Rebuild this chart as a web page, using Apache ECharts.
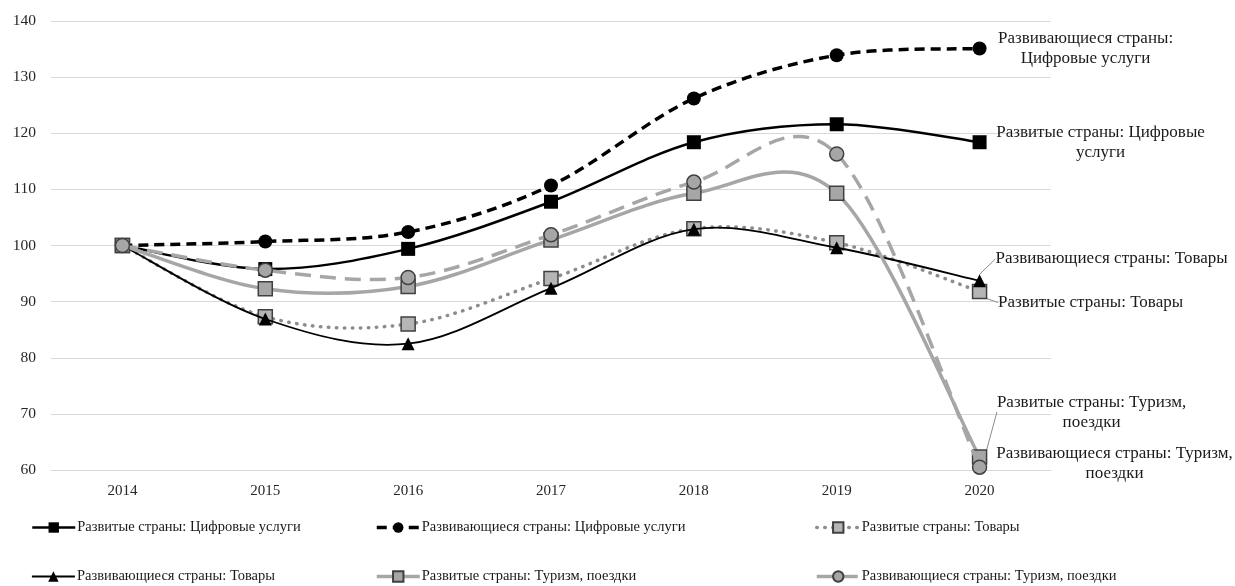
<!DOCTYPE html>
<html><head><meta charset="utf-8">
<script src="https://cdn.jsdelivr.net/npm/echarts@6/dist/echarts.min.js"></script>
<style>html,body{margin:0;padding:0;background:#fff}#c{width:1235px;height:586px}</style>
</head><body><div id="c"></div>
<script>
const years = ['2014','2015','2016','2017','2018','2019','2020'];
const devDigital = [100, 95.8, 99.4, 107.8, 118.4, 121.6, 118.4];
const dingDigital = [100, 100.7, 102.4, 110.7, 126.2, 133.9, 135.1];
const devGoods = [100, 87.3, 86.0, 94.1, 103.0, 100.5, 91.8];
const dingGoods = [100, 86.9, 82.5, 92.4, 102.9, 99.6, 93.7];
const devTourism = [100, 92.3, 92.7, 101.0, 109.3, 109.3, 62.3];
const dingTourism = [100, 95.6, 94.3, 101.9, 111.3, 116.3, 60.5];
const names = [
  'Развитые страны: Цифровые услуги',
  'Развивающиеся страны: Цифровые услуги',
  'Развитые страны: Товары',
  'Развивающиеся страны: Товары',
  'Развитые страны: Туризм, поездки',
  'Развивающиеся страны: Туризм, поездки'
];
const endLabels = [
  'Развитые страны: Цифровые\nуслуги',
  'Развивающиеся страны:\nЦифровые услуги',
  'Развитые страны: Товары',
  'Развивающиеся страны: Товары',
  'Развитые страны: Туризм,\nпоездки',
  'Развивающиеся страны: Туризм,\nпоездки'
];
const FONT = '"Liberation Serif", "DejaVu Serif", serif';
const chart = echarts.init(document.getElementById('c'), null, {renderer:'canvas'});

const styles = [
  {symbol:'rect', size:14, line:{color:'#000', width:2.5, type:'solid'}, fill:'#000', border:'#000', bw:0},
  {symbol:'circle', size:14, line:{color:'#000', width:3.5, type:[10,6]}, fill:'#000', border:'#000', bw:0},
  {symbol:'rect', size:14, line:{color:'#8c8c8c', width:3.5, type:[0.5,7.5], cap:'round'}, fill:'#b5b5b5', border:'#404040', bw:1.5},
  {symbol:'triangle', size:13, line:{color:'#000', width:1.8, type:'solid'}, fill:'#000', border:'#000', bw:0},
  {symbol:'rect', size:14, line:{color:'#a6a6a6', width:3.5, type:'solid'}, fill:'#a6a6a6', border:'#404040', bw:1.5},
  {symbol:'circle', size:14, line:{color:'#a6a6a6', width:3.5, type:[16,9]}, fill:'#a6a6a6', border:'#404040', bw:1.5}
];
const allValues = [devDigital, dingDigital, devGoods, dingGoods, devTourism, dingTourism];
const labelShifts = [[121, 0], [106, 0], [111, 11], [132, -22], [112, -45], [135, -4]];
const labelLines = [false, false, true, true, true, false];

// Excel-like smoothed curve drawn through the axis scales (api.coord)
function curveSeries(idx) {
  const values = allValues[idx];
  const st = styles[idx].line;
  return {
    type: 'custom',
    z: 2 + idx * 2,
    silent: true,
    clip: true,
    data: values.map((v, i) => [i, v]),
    encode: {x: 0, y: 1},
    renderItem: function (params, api) {
      if (params.dataIndex !== 0) return null;
      const p = values.map((v, i) => api.coord([i, v]));
      const n = p.length;
      let d = 'M' + p[0][0] + ' ' + p[0][1];
      for (let i = 0; i < n - 1; i++) {
        const p0 = p[Math.max(0, i - 1)], p1 = p[i], p2 = p[i + 1], p3 = p[Math.min(n - 1, i + 2)];
        const c1x = p1[0] + (p2[0] - p0[0]) / 6, c1y = p1[1] + (p2[1] - p0[1]) / 6;
        const c2x = p2[0] - (p3[0] - p1[0]) / 6, c2y = p2[1] - (p3[1] - p1[1]) / 6;
        d += ' C' + c1x + ' ' + c1y + ' ' + c2x + ' ' + c2y + ' ' + p2[0] + ' ' + p2[1];
      }
      return {
        type: 'path',
        shape: {pathData: d},
        style: {
          fill: 'none', stroke: st.color, lineWidth: st.width,
          lineDash: Array.isArray(st.type) ? st.type : null,
          lineCap: st.cap || 'butt', lineJoin: 'round'
        }
      };
    }
  };
}

function pointSeries(idx) {
  const values = allValues[idx];
  const s = styles[idx];
  const last = values.length - 1;
  const sh = labelShifts[idx];
  return {
    type: 'line',
    name: names[idx],
    z: 3 + idx * 2,
    symbol: s.symbol, symbolSize: s.size,
    lineStyle: {opacity: 0},
    itemStyle: {color: s.fill, borderColor: s.border, borderWidth: s.bw},
    data: values.map((v, i) => i === last ? {
      value: v,
      label: {
        show: true, position: 'inside', formatter: endLabels[idx],
        align: 'center', verticalAlign: 'middle',
        fontFamily: FONT, fontSize: 17, color: '#1a1a1a', lineHeight: 20
      },
      labelLine: {show: labelLines[idx], length2: 0, lineStyle: {color: '#8c8c8c', width: 1}}
    } : v),
    labelLayout: function () { return {dx: sh[0], dy: sh[1]}; },
    labelLine: {show: labelLines[idx], lineStyle: {color: '#8c8c8c', width: 1}}
  };
}

const series = [];
for (let i = 0; i < 6; i++) { series.push(curveSeries(i)); series.push(pointSeries(i)); }

const legendPos = [[31, 520], [375, 520], [815, 520], [31, 569], [375, 569], [815, 569]];
const legends = legendPos.map((pos, i) => ({
  left: pos[0], top: pos[1], padding: 0,
  itemWidth: 43, itemHeight: 13, itemGap: 0,
  selectedMode: false,
  data: [names[i]],
  lineStyle: {color: styles[i].line.color, width: Math.min(styles[i].line.width, 3.5), type: styles[i].line.type, opacity: 1, cap: styles[i].line.cap || 'butt'},
  textStyle: {fontFamily: FONT, fontSize: 14.5, color: '#1a1a1a', padding: [0, 0, 0, -3]}
}));

chart.setOption({
  animation: false,
  backgroundColor: '#fff',
  grid: {left: 51, right: 184, top: 21, bottom: 116, containLabel: false},
  legend: legends,
  xAxis: {
    type: 'category', data: years, boundaryGap: true,
    axisLine: {show: true, lineStyle: {color: '#d9d9d9', width: 1}},
    axisTick: {show: false},
    axisLabel: {fontFamily: FONT, fontSize: 15, color: '#262626', margin: 14}
  },
  yAxis: {
    type: 'value', min: 60, max: 140, interval: 10,
    axisLine: {show: false}, axisTick: {show: false},
    splitLine: {lineStyle: {color: '#d9d9d9', width: 1}},
    axisLabel: {fontFamily: FONT, fontSize: 15.5, color: '#262626', margin: 15}
  },
  series: series
});
</script></body></html>
